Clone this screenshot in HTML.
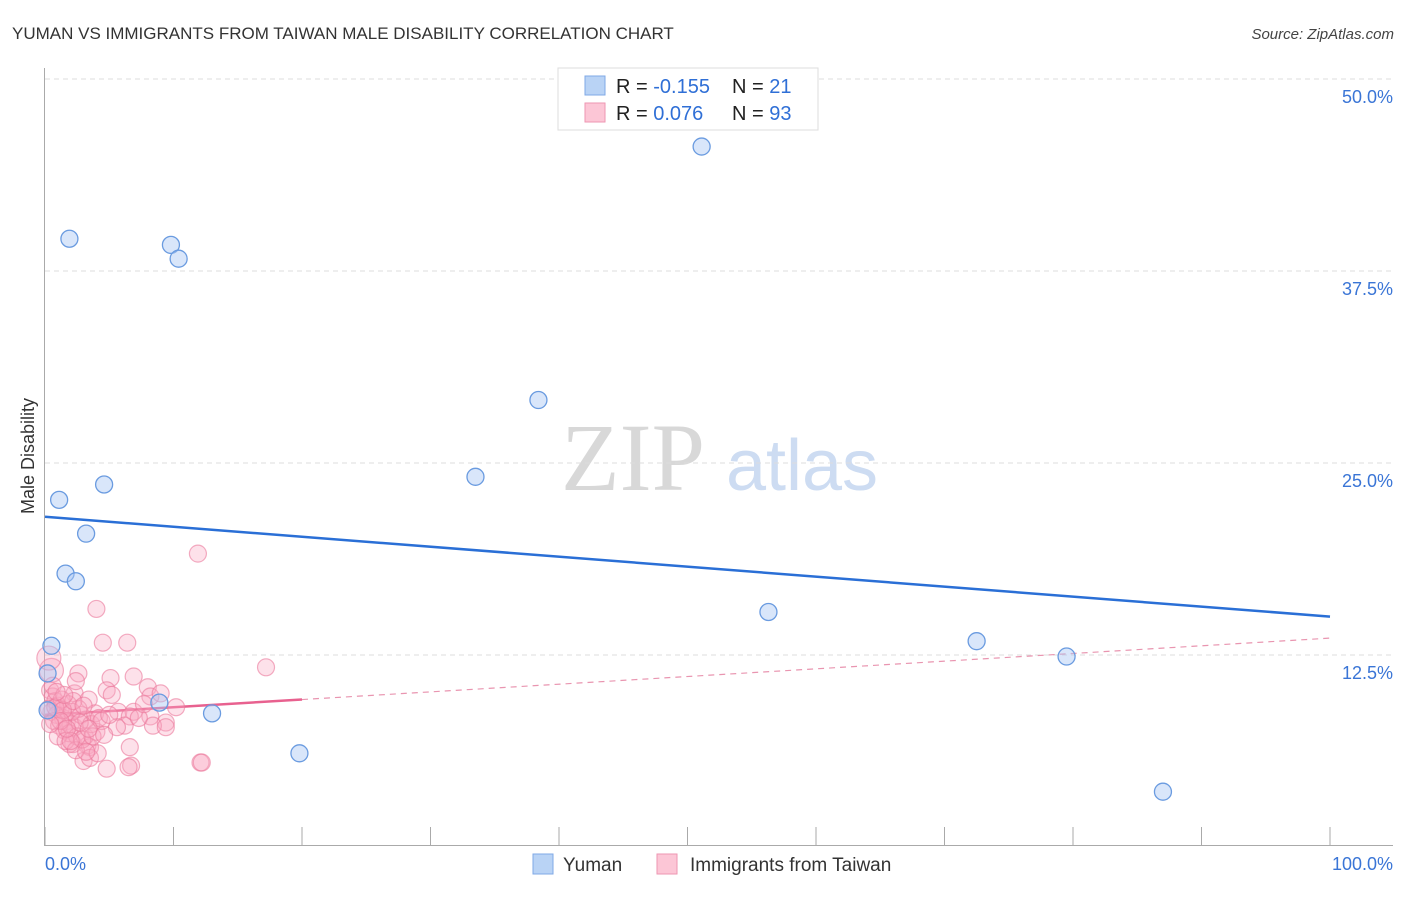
<!DOCTYPE html>
<html><head><meta charset="utf-8"><style>
body{margin:0;background:#fff;font-family:"Liberation Sans",sans-serif;}
svg text{font-family:"Liberation Sans",sans-serif;}
</style></head><body>
<svg id="chart" width="1406" height="892" xmlns="http://www.w3.org/2000/svg">
<text x="12" y="39" font-size="17" fill="#333">YUMAN VS IMMIGRANTS FROM TAIWAN MALE DISABILITY CORRELATION CHART</text>
<text x="1394" y="39" font-size="15" fill="#444" text-anchor="end" font-style="italic">Source: ZipAtlas.com</text>
<g>
<text x="633" y="490" font-size="96" fill="#d8d8d8" style="font-family:'Liberation Serif',serif" text-anchor="middle">ZIP</text>
<text x="802" y="490" font-size="72" fill="#cddcf2" text-anchor="middle">atlas</text>
</g>
<g id="grid"></g>
<g id="axes"></g>
<text transform="translate(34,456) rotate(-90)" font-size="18" fill="#333" text-anchor="middle">Male Disability</text>
<g id="lines"></g>
<g id="points"></g>
<g>
<rect x="558" y="68" width="260" height="62" fill="#fff" stroke="#ddd"/>
<rect x="585" y="76" width="20" height="19" fill="#b9d3f5" stroke="#7fa8e6"/>
<rect x="585" y="103" width="20" height="19" fill="#fcc6d6" stroke="#ee96b2"/>
<text x="616" y="93" font-size="20" fill="#222">R = <tspan fill="#2f6fd6">-0.155</tspan></text>
<text x="732" y="93" font-size="20" fill="#222">N = <tspan fill="#2f6fd6"> 21</tspan></text>
<text x="616" y="120" font-size="20" fill="#222">R = <tspan fill="#2f6fd6"> 0.076</tspan></text>
<text x="732" y="120" font-size="20" fill="#222">N = <tspan fill="#2f6fd6">93</tspan></text>
</g>
<g>
<rect x="533" y="854" width="20" height="20" fill="#b9d3f5" stroke="#7fa8e6"/>
<text x="563" y="871" font-size="19" fill="#333">Yuman</text>
<rect x="657" y="854" width="20" height="20" fill="#fcc6d6" stroke="#ee96b2"/>
<text x="690" y="871" font-size="19" fill="#333">Immigrants from Taiwan</text>
</g>
</svg>
<script>
const yTicks=[12.5,25,37.5,50];
const yTickLabels=["12.5%","25.0%","37.5%","50.0%"];
const xTickLabels=["0.0%","100.0%"];
const yumanX=[1.9,9.8,10.4,51.1,38.4,33.5,1.1,4.6,3.2,1.6,2.4,56.3,72.5,79.5,0.5,8.9,13.0,19.8,87.0,0.2,0.2];
const yumanY=[39.6,39.2,38.3,45.6,29.1,24.1,22.6,23.6,20.4,17.8,17.3,15.3,13.4,12.4,13.1,9.4,8.7,6.1,3.6,11.3,8.9];
const taiwan=[[11.9,19.1],[4.0,15.5],[4.5,13.3],[6.4,13.3],[17.2,11.7],[2.6,11.3],[5.1,11.0],[6.9,11.1],[0.5,11.5],[0.3,12.3],
[2.3,10.0],[4.8,10.2],[5.2,9.9],[8.0,10.4],[8.2,9.8],[3.4,9.6],[5.7,8.8],[6.9,8.8],[8.2,8.5],[9.4,8.1],
[6.6,8.5],[8.4,7.9],[9.4,7.8],[6.2,7.9],[5.6,7.8],[2.2,6.7],[1.9,6.7],[3.3,6.6],[3.5,6.5],[6.6,6.5],
[3.1,7.2],[4.0,7.5],[3.0,5.6],[3.5,5.8],[4.8,5.1],[6.7,5.3],[6.5,5.2],[12.1,5.5],[12.2,5.5],[0.4,10.2],
[0.6,9.8],[0.8,9.5],[1.0,9.2],[1.2,9.0],[0.5,8.8],[0.9,8.6],[1.4,8.4],[1.7,8.2],[2.0,8.0],[2.3,7.8],
[0.3,9.0],[0.7,8.2],[1.1,7.9],[1.5,7.6],[1.9,7.4],[2.5,7.2],[2.8,8.6],[3.2,8.3],[3.6,8.0],[2.6,9.0],
[1.8,9.3],[1.3,9.6],[0.6,10.5],[2.1,8.8],[3.9,8.7],[4.2,8.4],[1.0,7.2],[1.6,6.9],[2.4,6.3],[2.9,7.0],
[3.7,7.2],[4.4,8.2],[0.8,9.1],[1.4,8.9],[2.2,9.5],[3.0,9.2],[1.2,8.2],[0.4,8.0],[2.7,8.1],[3.4,7.7],
[1.5,9.9],[0.9,10.1],[2.0,6.9],[4.1,6.1],[3.2,6.2],[1.7,7.7],[4.6,7.3],[5.0,8.6],[7.3,8.4],[7.7,9.3],
[9.0,10.0],[10.2,9.1],[2.4,10.8]];
const yumanTrend=[21.5,15.0];
const taiwanTrend=[8.6,13.6];
const taiwanSolidEnd=20;
const X=v=>45+v*12.85, Y=v=>847-v*15.36;
const NS="http://www.w3.org/2000/svg";
function mk(tag,attrs,parent){const e=document.createElementNS(NS,tag);for(const k in attrs)e.setAttribute(k,attrs[k]);document.getElementById(parent).appendChild(e);return e;}
yTicks.forEach((t,i)=>{
 const l=mk('line',{x1:45,x2:1393,y1:Y(t),y2:Y(t),stroke:'#ddd','stroke-dasharray':'5,4'},'grid');
 
 
 const tx=mk('text',{x:1393,y:Y(t)+24,'font-size':18,fill:'#3a75d6','text-anchor':'end'},'grid');
 tx.textContent=yTickLabels[i];
 
 
});
let a=mk('line',{x1:44.5,x2:44.5,y1:68,y2:845,stroke:'#aaa'},'axes');


a=mk('line',{x1:44,x2:1393,y1:845.5,y2:845.5,stroke:'#aaa'},'axes');


for(let i=0;i<=10;i++){
 const t=mk('line',{x1:X(i*10),x2:X(i*10),y1:827,y2:845,stroke:'#aaa'},'axes');
 
 
}
[[0,'start',45],[1,'end',1393]].forEach(([i,anc,x])=>{
 const t=mk('text',{x:x,y:870,'font-size':18,fill:'#3a75d6','text-anchor':anc},'axes');
 t.textContent=xTickLabels[i];
 
 
});
let ln=mk('line',{x1:X(0),x2:X(100),y1:Y(yumanTrend[0]),y2:Y(yumanTrend[1]),stroke:'#2a6fd6','stroke-width':2.5},'lines');


const tyAt=v=>taiwanTrend[0]+(taiwanTrend[1]-taiwanTrend[0])*v/100;
ln=mk('line',{x1:X(taiwanSolidEnd),x2:X(100),y1:Y(tyAt(taiwanSolidEnd)),y2:Y(taiwanTrend[1]),stroke:'#e995b0','stroke-width':1.2,'stroke-dasharray':'6,5'},'lines');


taiwan.forEach(([x,y],i)=>{
 const c=mk('circle',{cx:X(x),cy:Y(y),r:(i==8||i==9)?12:8.5,fill:'rgba(248,170,195,0.35)',stroke:'rgba(235,120,155,0.6)','stroke-width':1.2},'points');
 
 
});
ln=mk('line',{x1:X(0),x2:X(taiwanSolidEnd),y1:Y(taiwanTrend[0]),y2:Y(tyAt(taiwanSolidEnd)),stroke:'#e8618f','stroke-width':2.5},'lines');


yumanX.forEach((x,i)=>{
 const c=mk('circle',{cx:X(x),cy:Y(yumanY[i]),r:8.5,fill:'rgba(170,200,245,0.45)',stroke:'#6a9be0','stroke-width':1.3},'points');
 
 
});
</script>
</body></html>
